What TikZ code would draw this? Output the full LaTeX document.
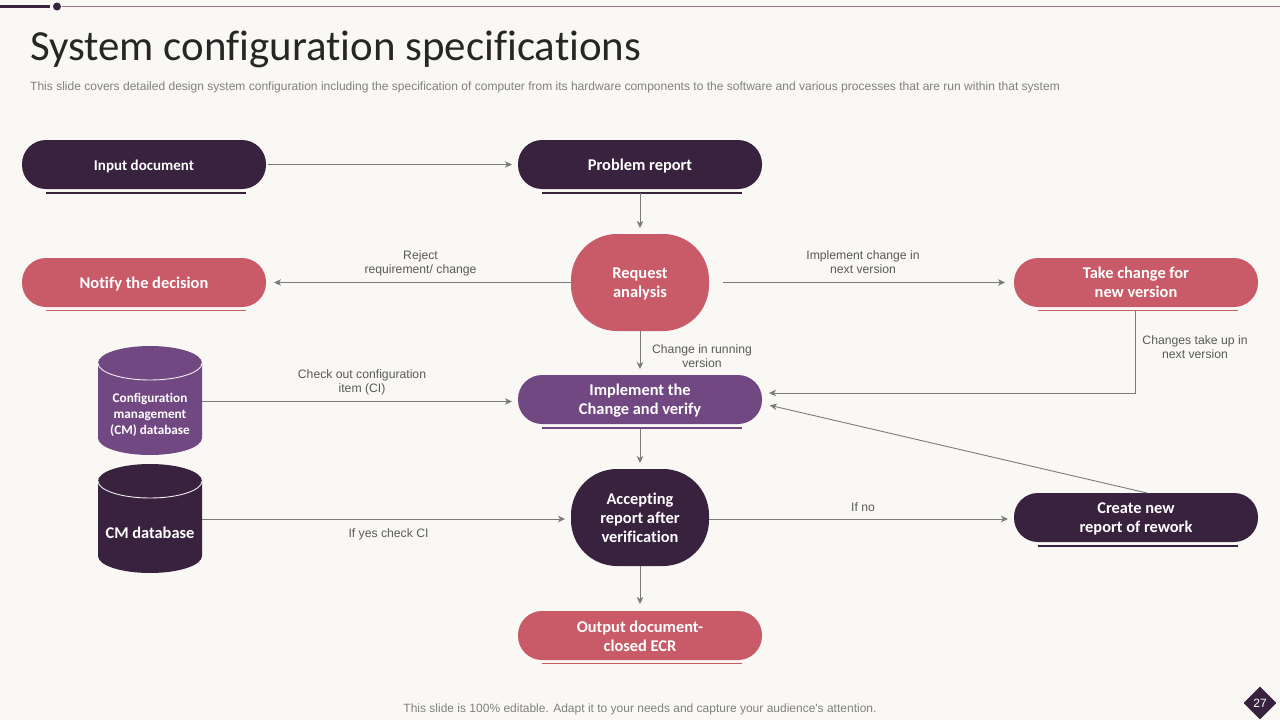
\documentclass[tikz,border=0pt]{standalone}
\usepackage{fontspec}
\setmainfont[Ligatures=NoCommon]{Carlito}
\newfontfamily\labelfont{Liberation Sans}
\usetikzlibrary{shapes,arrows.meta}
\definecolor{bgpage}{HTML}{FAF8F5}
\definecolor{darkplum}{HTML}{38223E}
\definecolor{rosered}{HTML}{C95B68}
\definecolor{violet}{HTML}{724882}
\definecolor{linegray}{HTML}{7A7A7A}
\definecolor{textgray}{HTML}{595959}
\definecolor{subgray}{HTML}{808080}
\definecolor{topline}{HTML}{A5707C}
\newcommand{\textprop}{\rule[-1pt]{0pt}{16pt}}
\newcommand{\lowered}[1]{\rule{0pt}{#1}}
\tikzset{
  pill/.style={rectangle,rounded corners=24pt,minimum width=244pt,minimum height=49pt,inner sep=0pt,outer sep=0pt,
    text=white,align=center,font=\fontsize{16.4}{19}\selectfont\bfseries,
    execute at end node=\textprop},
  blob/.style={pill,rounded corners=46pt,minimum width=138pt,minimum height=97pt},
  dbtext/.style={inner sep=0pt,outer sep=0pt,minimum width=104pt,text=white,align=center},
  lbl/.style={font=\labelfont\fontsize{12.2}{14}\selectfont,text=textgray,align=center,inner sep=0pt},
  conn/.style={draw=linegray,line width=0.9pt,-{Stealth[length=7pt,width=6.5pt,inset=2pt]}},
}
\begin{document}
\begin{tikzpicture}[x=1pt,y=-1pt]
  \useasboundingbox[fill=bgpage] (0,0) rectangle (1280,720);
  % top rule
  \draw[darkplum,line width=3pt] (0,6) -- (50,6);
  \fill[darkplum] (57,6.5) circle [radius=4pt];
  \draw[topline,line width=1pt] (62,6.5) -- (1280,6.5);
  % heading
  \node[anchor=base west,inner sep=0pt,text=black!85,font=\fontsize{42.9}{44}\selectfont] (title) at (30,60) {System configuration specifications};
  \node[anchor=base west,inner sep=0pt,text=subgray,font=\labelfont\fontsize{12.03}{14}\selectfont] (sub) at (30,90) {This slide covers detailed design system configuration including the specification of computer from its hardware components to the software and various processes that are run within that system};
  % boxes
  \node[pill,fill=darkplum,font=\fontsize{15}{19}\selectfont\bfseries] (input) at (144,164.5) {Input document};
  \node[pill,fill=darkplum] (problem) at (640,164.5) {Problem report};
  \node[pill,fill=rosered] (notify) at (144,282.5) {Notify the decision};
  \node[blob,fill=rosered] (request) at (640,282.5) {\lowered{13pt}Request\\analysis};
  \node[pill,fill=rosered] (take) at (1136,282.5) {\lowered{12pt}Take change for\\new version};
  \node[pill,fill=violet] (implement) at (640,399.5) {\lowered{14.5pt}Implement the\\Change and verify};
  \node[blob,fill=darkplum] (accept) at (640,517.5) {\lowered{13pt}Accepting\\report after\\verification};
  \node[pill,fill=darkplum] (create) at (1136,517.5) {\lowered{13pt}Create new\\report of rework};
  \node[pill,fill=rosered] (output) at (640,635.5) {\lowered{13pt}Output document-\\closed ECR};
  % databases
  \foreach \c/\t in {violet/363,darkplum/481}{
    \fill[\c] (98,\t) arc [start angle=180,end angle=0,x radius=52pt,y radius=17pt]
      -- (202,\t+75) arc [start angle=0,end angle=-180,x radius=52pt,y radius=17pt] -- cycle;
    \draw[white!90!violet,line width=0.9pt] (98,\t) arc [start angle=180,end angle=360,x radius=52pt,y radius=17pt];
  }
  \node[dbtext,font=\fontsize{13.2}{16}\selectfont\bfseries] (cfgdb) at (150,415) {Configuration\\management\\(CM) database};
  \node[dbtext,font=\fontsize{16.4}{19}\selectfont\bfseries] (cmdb) at (150,533) {CM database};
  % bars under the boxes
  \foreach \n/\c/\w in {input/darkplum/2,problem/darkplum/2,notify/rosered/1,take/rosered/1,implement/violet/2,create/darkplum/2,output/rosered/1.6}
    \draw[\c,line width=\w pt] ([xshift=24pt,yshift=-3.5pt]\n.south west) -- ([xshift=-20pt,yshift=-3.5pt]\n.south east);
  % connectors
  \coordinate (elbow) at (1135,393);
  \draw[conn,shorten <=2pt,shorten >=6pt] (input) -- (problem);
  \draw[conn,shorten <=4pt,shorten >=6pt] (problem) -- (request);
  \draw[conn,shorten >=8pt] (request) -- (notify);
  \draw[conn,shorten <=14pt,shorten >=9pt] (request) -- (take);
  \draw[conn,shorten >=6pt] (request) -- (implement);
  \draw[conn,shorten <=3pt,shorten >=7pt] (take.south -| elbow) -- (elbow) -- (elbow -| implement.east);
  \draw[conn,shorten >=8pt] (create.north) ++(11,0) coordinate (createout) -- ([yshift=-4pt]implement.east);
  \draw[conn,shorten >=6pt] (cfgdb.east |- 0,401.5) -- (implement.west |- 0,401.5);
  \draw[conn,shorten >=6pt] (cmdb.east |- 0,519) -- (accept.west |- 0,519);
  \draw[conn,shorten >=6pt] (accept.east |- 0,519) -- (create.west |- 0,519);
  \draw[conn,shorten <=5pt,shorten >=6pt] (implement) -- (accept);
  \draw[conn,shorten >=7pt] (accept) -- (output);
  % labels
  \node[lbl] (reject) at (420.5,263) {Reject\\requirement/ change};
  \node[lbl] (nextver) at (863,262) {Implement change in\\next version};
  \node[lbl] (running) at (702,356) {Change in running\\version};
  \node[lbl] (takeup) at (1195,347) {Changes take up in\\next version};
  \node[lbl] (checkout) at (362,382) {Check out configuration\\item (CI)};
  \node[lbl] (ifyes) at (388.5,534) {If yes check CI};
  \node[lbl] (ifno) at (863,507) {If no};
  % footer
  \node[lbl,text=subgray,font=\labelfont\fontsize{12}{14}\selectfont] (foot) at (640,709) {This slide is 100\% editable. Adapt it to your needs and capture your audience's attention.};
  \node[diamond,fill=darkplum,text=white,inner sep=0pt,minimum width=33pt,minimum height=33pt,font=\labelfont\fontsize{12}{14}\selectfont] (pagenum) at (1260,703) {27};
\end{tikzpicture}
\end{document}
